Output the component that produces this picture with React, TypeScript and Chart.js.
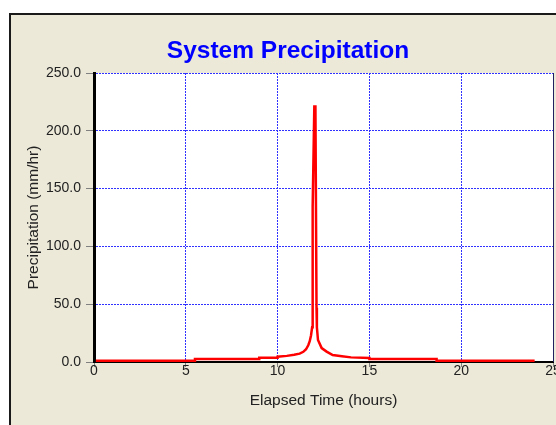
import React, { useEffect, useRef } from "react";
import { Chart, registerables } from "chart.js";

Chart.register(...registerables);

const chartTitle = "System Precipitation";
const xAxisTitle = "Elapsed Time (hours)";
const yAxisTitle = "Precipitation (mm/hr)";

// elapsed time (hours) and precipitation intensity (mm/hr)
const times = [
  0.1, 5.5, 5.5, 9.0, 9.0, 10.0, 10.0, 10.5, 10.9, 11.2, 11.4, 11.55, 11.67, 11.75, 11.82, 11.88, 11.9,
  11.92, 12.0, 12.06, 12.12, 12.14, 12.2, 12.4, 12.67, 13.0, 13.5, 14.0, 15.0, 15.0, 18.66, 18.66, 24.0,
];
const precip = [
  1.1, 1.1, 2.6, 2.6, 3.6, 3.6, 4.6, 5.3, 6.2, 7.2, 8.8, 11, 14.5, 18, 23, 30, 47,
  134, 221, 221, 47, 30, 19, 12, 9, 6, 5, 4, 3.5, 2.6, 2.6, 1.1, 1.1,
];

const xMin = 0;
const xMax = 25;
const xStep = 5;
const yMin = 0;
const yMax = 250;
const yStep = 50;

const FONT = "'Liberation Sans', Arial, sans-serif";

export default function App() {
  const ref = useRef<HTMLCanvasElement | null>(null);

  useEffect(() => {
    const canvas = ref.current;
    if (!canvas) return;

    const framePlugin = {
      id: "frame",
      beforeDraw(chart: any) {
        const { ctx, chartArea } = chart;
        ctx.save();
        ctx.fillStyle = "#ffffff";
        ctx.fillRect(0, 0, chart.width, chart.height);
        ctx.fillStyle = "#ECE9D8";
        ctx.fillRect(10, 14, chart.width, chart.height);
        ctx.strokeStyle = "#1a1a1a";
        ctx.lineWidth = 2;
        ctx.strokeRect(10, 14, chart.width + 20, chart.height + 20);
        ctx.fillStyle = "#ffffff";
        ctx.fillRect(chartArea.left, chartArea.top, chartArea.right - chartArea.left, chartArea.bottom - chartArea.top);
        ctx.fillStyle = "#0000FF";
        ctx.font = `bold 24.5px ${FONT}`;
        ctx.textAlign = "center";
        ctx.textBaseline = "alphabetic";
        ctx.fillText(chartTitle, 288, 58);
        ctx.restore();
      },
      afterDatasetsDraw(chart: any) {
        const { ctx, chartArea } = chart;
        ctx.save();
        ctx.strokeStyle = "#202060";
        ctx.lineWidth = 1;
        ctx.beginPath();
        ctx.moveTo(chartArea.right + 0.5, chartArea.top);
        ctx.lineTo(chartArea.right + 0.5, chartArea.bottom);
        ctx.stroke();
        ctx.restore();
      },
    };

    const chart = new Chart(canvas, {
      type: "line",
      data: {
        datasets: [
          {
            label: "Precipitation",
            data: times.map((t, i) => ({ x: t, y: precip[i] })),
            borderColor: "#FF0000",
            backgroundColor: "#FF0000",
            borderWidth: 2.5,
            pointRadius: 0,
            tension: 0,
            fill: false,
          },
        ],
      },
      options: {
        animation: false,
        responsive: false,
        devicePixelRatio: 1,
        layout: { padding: { left: 0, top: 73, right: 47, bottom: 0 } },
        plugins: {
          legend: { display: false },
          tooltip: { enabled: false },
          title: { display: false },
        },
        scales: {
          x: {
            type: "linear",
            min: xMin,
            max: xMax,
            afterFit(scale: any) {
              scale.height = 63;
            },
            ticks: {
              stepSize: xStep,
              color: "#222222",
              font: { family: FONT, size: 14 },
              padding: -4,
              maxRotation: 0,
              autoSkip: false,
            },
            grid: {
              color: "#3030ff",
              lineWidth: 1,
              tickColor: "#808080",
              tickLength: 5,
            },
            border: { display: true, color: "#000000", width: 2, dash: [2, 1] },
            title: {
              display: true,
              text: xAxisTitle,
              color: "#222222",
              font: { family: FONT, size: 15.5 },
              padding: { top: 0, bottom: 15 },
            },
          },
          y: {
            type: "linear",
            min: yMin,
            max: yMax,
            afterFit(scale: any) {
              scale.width = 94;
            },
            ticks: {
              stepSize: yStep,
              color: "#222222",
              font: { family: FONT, size: 14 },
              padding: 5,
              callback: (v: any) => Number(v).toFixed(1),
            },
            grid: {
              color: "#3030ff",
              lineWidth: 1,
              tickColor: "#808080",
              tickLength: 8,
            },
            border: { display: true, color: "#000000", width: 3, dash: [2, 1] },
            title: {
              display: true,
              text: yAxisTitle,
              color: "#222222",
              font: { family: FONT, size: 15.5 },
              padding: { top: 24, bottom: 0 },
            },
          },
        },
      },
      plugins: [framePlugin],
    } as any);

    return () => chart.destroy();
  }, []);

  return (
    <div
      style={{
        position: "fixed",
        left: 0,
        top: 0,
        width: 556,
        height: 425,
        overflow: "hidden",
        background: "#ffffff",
      }}
    >
      <canvas ref={ref} width={600} height={425} style={{ display: "block", width: 600, height: 425 }} />
    </div>
  );
}
